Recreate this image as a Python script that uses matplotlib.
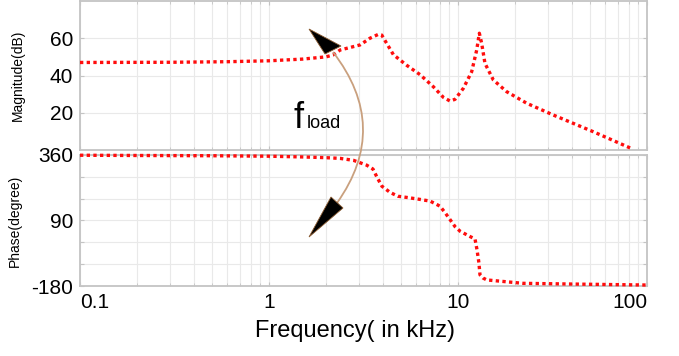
import numpy as np
import matplotlib.pyplot as plt
from matplotlib.path import Path
from matplotlib.patches import PathPatch, Polygon
from matplotlib.ticker import NullFormatter

plt.rcParams['font.family'] = ['Liberation Sans', 'DejaVu Sans']

# magnitude response (kHz, dB)
mag_freq = [0.1, 0.3, 0.6, 1.0, 1.5, 2.0, 2.18, 2.38, 3.03, 3.42, 3.79, 3.95,
            4.55, 5.35, 6.29, 7.4, 8.36, 9.07, 9.64, 10.67, 11.81, 12.56,
            12.97, 13.34, 13.89, 15.38, 18.1, 23.1, 31.9, 52.0, 84.0]
mag_db = [47.0, 47.1, 47.4, 47.9, 48.8, 50.0, 51.0, 53.7, 56.4, 60.0, 62.1, 61.7,
          51.2, 45.5, 40.5, 34.0, 28.3, 26.3, 27.2, 33.1, 42.0, 53.7,
          62.7, 57.3, 46.5, 37.6, 31.3, 25.1, 18.8, 9.8, 0.5]

# phase response (kHz, degree)
ph_freq = [0.1, 0.2, 0.5, 1.0, 1.5, 2.0, 2.38, 2.8, 3.29, 3.55, 3.73, 3.96,
           4.37, 4.81, 5.37, 6.29, 7.11, 7.55, 8.03, 8.53, 9.07, 9.64, 10.25,
           11.57, 12.3, 12.6, 12.9, 13.07, 13.56, 14.2, 22.1, 40.6, 100.0]
ph_deg = [359, 358, 357, 355, 352, 349, 346, 338, 318, 302, 268, 231,
          206, 190, 185, 177, 170, 160, 149, 123, 94, 65, 46,
          24, 14, -30, -84, -134, -147, -155, -169, -172, -176]

mag_ticks = [20, 40, 60]
ph_ticks = [-180, -90, 0, 90, 180, 270, 360]
ph_labels = ['-180', '', '', '90', '', '', '360']
x_ticks = [0.1, 1, 10, 100]
x_labels = ['0.1', '1', '10', '100']

W, H = 679, 356
fig = plt.figure(figsize=(W / 100, H / 100), dpi=100)


def fx(px, py):
    # pixel (from top-left) -> figure fraction
    return (px / W, 1 - py / H)


frame_c = '#c4c4c4'
grid_c = '#e9e9e9'
line_kw = dict(color='#ff0d0d', lw=2.4, linestyle=(0, (1.0, 1.0)),
               dash_capstyle='butt', clip_on=False, zorder=3)

ax1 = fig.add_axes([80 / W, 1 - 150 / H, 567 / W, 149 / H])
ax2 = fig.add_axes([80 / W, 1 - 286 / H, 567 / W, 131 / H])

ax1.plot(mag_freq, mag_db, **line_kw)
ax2.plot(ph_freq, ph_deg, **line_kw)

for ax in (ax1, ax2):
    ax.set_xscale('log')
    ax.set_xlim(0.1, 100)
    for s in ax.spines.values():
        s.set_color(frame_c)
        s.set_linewidth(1.3)
    ax.grid(True, which='both', axis='x', color=grid_c, lw=0.8)
    ax.grid(True, which='major', axis='y', color=grid_c, lw=0.8)
    ax.tick_params(which='both', direction='in', top=True, right=True,
                   color=frame_c, labelsize=15, pad=5)
    ax.tick_params(which='major', length=3)
    ax.tick_params(which='minor', length=2)
    ax.set_axisbelow(True)

ax1.set_ylim(0, 80)
ax1.set_yticks(mag_ticks)
ax1.xaxis.set_major_formatter(NullFormatter())
ax1.xaxis.set_minor_formatter(NullFormatter())
ax1.set_ylabel('Magnitude(dB)', fontsize=10, labelpad=4)

ax2.set_ylim(-180, 360)
ax2.set_yticks(ph_ticks)
ax2.set_yticklabels(ph_labels)
ax2.set_xticks(x_ticks)
ax2.set_xticklabels(x_labels)
ax2.xaxis.set_minor_formatter(NullFormatter())
tl = ax2.get_xticklabels()
tl[0].set_ha('left')
tl[-1].set_ha('right')
ax2.set_ylabel('Phase(degree)', fontsize=10, labelpad=4)
ax1.yaxis.set_label_coords(-0.098, 0.5)
ax2.yaxis.set_label_coords(-0.103, 0.5)

fig.text(*fx(355, 331), 'Frequency( in kHz)', fontsize=17,
         ha='center', va='center')

# f_load annotation: curved arrow with two dart heads
P0, C, P2 = fx(333, 52), fx(391, 127), fx(337, 203)
arc = Path([P0, C, P2], [Path.MOVETO, Path.CURVE3, Path.CURVE3])
fig.add_artist(PathPatch(arc, transform=fig.transFigure, fill=False,
                         edgecolor='#c9a07e', lw=1.3, zorder=5))
for tri in ([(309, 29), (325, 54), (341, 46)],
            [(309, 237), (331, 197), (343, 208)]):
    fig.add_artist(Polygon([fx(*p) for p in tri], closed=True,
                           transform=fig.transFigure, facecolor='black',
                           edgecolor='#8a5a30', lw=0.6, zorder=6))

fig.text(*fx(294, 128), 'f', fontsize=26, ha='left', va='baseline')
fig.text(*fx(307, 128), 'load', fontsize=13, ha='left', va='baseline')

fig.savefig('out.png', dpi=100)
